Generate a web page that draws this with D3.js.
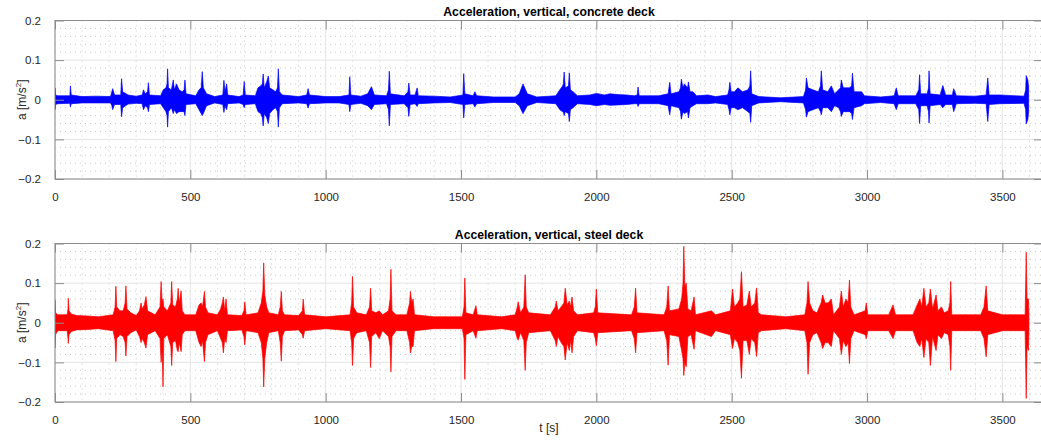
<!DOCTYPE html>
<html>
<head>
<meta charset="utf-8">
<script src="https://cdn.jsdelivr.net/npm/d3@7"></script>
<style>
  html, body { margin: 0; padding: 0; background: #fff; }
  svg { display: block; font-family: "Liberation Sans", Arial, Helvetica, sans-serif; }
</style>
</head>
<body>
<svg id="chart" width="1041" height="441"></svg>
<script>
// ---------- data (envelope keypoints: time [s], upper, lower [m/s^2]) ----------
const concreteT  = [0,2,10,55,57,60,100,150,205,210,213,220,243,246,250,270,300,322,327,333,342,345,349,390,400,410,414,416,419,430,437,441,449,458,470,477,480,484,520,532,540,544,548,560,590,620,624,628,634,638,680,695,699,703,740,750,760,766,769,773,782,788,793,805,815,822,825,829,840,900,930,935,940,1000,1050,1086,1089,1093,1130,1155,1169,1180,1225,1232,1235,1239,1290,1304,1307,1312,1330,1338,1342,1400,1460,1507,1510,1514,1545,1551,1558,1620,1700,1715,1729,1745,1780,1850,1865,1875,1878,1881,1885,1897,1900,1904,1914,1930,1976,2000,2030,2050,2080,2112,2140,2151,2154,2158,2230,2265,2271,2276,2305,2311,2314,2320,2325,2337,2340,2346,2357,2370,2412,2440,2485,2490,2493,2498,2510,2523,2540,2560,2567,2570,2574,2600,2680,2765,2773,2776,2782,2800,2820,2828,2831,2836,2855,2868,2880,2895,2902,2905,2912,2935,2943,2946,2952,2980,2990,3050,3100,3108,3115,3180,3191,3194,3198,3222,3227,3229,3233,3270,3280,3290,3315,3320,3330,3400,3440,3446,3451,3490,3580,3586,3588,3594,3597];
const concreteHi = [0.03,0.012,0.01,0.01,0.035,0.012,0.008,0.009,0.008,0.02,0.028,0.012,0.012,0.053,0.02,0.012,0.009,0.012,0.025,0.015,0.02,0.043,0.012,0.01,0.025,0.03,0.04,0.078,0.03,0.025,0.05,0.025,0.04,0.025,0.02,0.025,0.05,0.015,0.01,0.025,0.03,0.071,0.03,0.015,0.008,0.012,0.049,0.02,0.04,0.012,0.008,0.012,0.046,0.012,0.01,0.03,0.035,0.04,0.065,0.03,0.045,0.06,0.03,0.025,0.02,0.03,0.078,0.02,0.012,0.008,0.012,0.028,0.012,0.008,0.008,0.012,0.058,0.012,0.009,0.015,0.033,0.012,0.01,0.025,0.072,0.015,0.01,0.02,0.042,0.012,0.012,0.03,0.01,0.009,0.007,0.012,0.066,0.015,0.01,0.02,0.01,0.007,0.007,0.015,0.04,0.015,0.007,0.01,0.025,0.035,0.04,0.07,0.03,0.035,0.068,0.025,0.02,0.01,0.012,0.016,0.012,0.015,0.013,0.012,0.01,0.012,0.032,0.01,0.01,0.015,0.044,0.015,0.02,0.03,0.052,0.03,0.04,0.03,0.045,0.02,0.02,0.01,0.012,0.008,0.012,0.025,0.044,0.02,0.02,0.03,0.02,0.025,0.035,0.073,0.015,0.008,0.005,0.008,0.025,0.055,0.03,0.025,0.02,0.035,0.073,0.025,0.02,0.035,0.015,0.025,0.03,0.05,0.03,0.03,0.035,0.067,0.02,0.02,0.01,0.007,0.01,0.03,0.01,0.01,0.025,0.063,0.015,0.015,0.03,0.073,0.015,0.012,0.036,0.012,0.012,0.028,0.01,0.009,0.012,0.055,0.012,0.012,0.009,0.025,0.061,0.05,0.03];
const concreteLo = [-0.025,-0.012,-0.01,-0.009,-0.018,-0.01,-0.008,-0.008,-0.008,-0.015,-0.025,-0.012,-0.012,-0.043,-0.02,-0.011,-0.009,-0.01,-0.025,-0.015,-0.02,-0.03,-0.012,-0.01,-0.02,-0.03,-0.04,-0.069,-0.03,-0.02,-0.035,-0.025,-0.035,-0.03,-0.03,-0.03,-0.04,-0.012,-0.01,-0.025,-0.035,-0.04,-0.035,-0.015,-0.008,-0.012,-0.032,-0.015,-0.025,-0.01,-0.008,-0.012,-0.02,-0.012,-0.01,-0.03,-0.035,-0.045,-0.066,-0.035,-0.045,-0.06,-0.035,-0.025,-0.02,-0.03,-0.069,-0.02,-0.01,-0.008,-0.01,-0.021,-0.01,-0.008,-0.008,-0.012,-0.03,-0.012,-0.009,-0.015,-0.025,-0.012,-0.01,-0.025,-0.066,-0.012,-0.01,-0.02,-0.042,-0.012,-0.01,-0.017,-0.01,-0.008,-0.007,-0.012,-0.046,-0.012,-0.01,-0.018,-0.01,-0.007,-0.007,-0.015,-0.035,-0.015,-0.007,-0.01,-0.025,-0.03,-0.03,-0.04,-0.03,-0.035,-0.055,-0.025,-0.02,-0.01,-0.012,-0.015,-0.012,-0.014,-0.013,-0.012,-0.01,-0.01,-0.017,-0.01,-0.01,-0.015,-0.038,-0.015,-0.02,-0.03,-0.049,-0.03,-0.035,-0.03,-0.046,-0.02,-0.015,-0.01,-0.01,-0.008,-0.012,-0.025,-0.038,-0.02,-0.02,-0.025,-0.02,-0.03,-0.035,-0.057,-0.015,-0.008,-0.005,-0.008,-0.025,-0.044,-0.03,-0.025,-0.02,-0.03,-0.038,-0.02,-0.02,-0.03,-0.015,-0.02,-0.03,-0.042,-0.03,-0.03,-0.035,-0.05,-0.02,-0.015,-0.01,-0.007,-0.01,-0.025,-0.01,-0.01,-0.025,-0.06,-0.015,-0.015,-0.03,-0.059,-0.015,-0.012,-0.02,-0.012,-0.012,-0.03,-0.01,-0.009,-0.01,-0.055,-0.012,-0.01,-0.009,-0.025,-0.061,-0.05,-0.03];

const steelT  = [0,2,10,45,48,49,52,60,80,120,160,215,222,225,228,240,252,259,262,266,280,300,312,318,322,330,336,342,370,388,392,396,399,402,415,428,431,435,445,452,455,459,466,470,480,520,532,540,545,552,556,565,600,612,618,622,627,632,637,690,698,701,706,750,762,768,771,775,782,790,825,832,836,840,848,900,914,917,922,1000,1090,1096,1099,1103,1115,1150,1162,1166,1170,1185,1198,1210,1232,1238,1241,1245,1260,1300,1310,1313,1318,1323,1328,1400,1505,1511,1514,1518,1545,1555,1560,1650,1700,1708,1711,1720,1732,1737,1741,1750,1830,1848,1852,1858,1870,1880,1885,1892,1900,1905,1910,1916,1930,1990,1996,2000,2005,2130,2140,2145,2150,2250,2260,2265,2270,2305,2315,2320,2323,2327,2332,2338,2350,2361,2366,2425,2440,2495,2503,2510,2522,2530,2536,2542,2556,2565,2572,2585,2592,2598,2610,2700,2770,2778,2782,2788,2800,2815,2830,2836,2845,2856,2868,2876,2898,2905,2912,2922,2930,2935,2940,2952,2993,2997,3003,3080,3096,3105,3170,3185,3195,3202,3210,3218,3228,3234,3242,3255,3262,3275,3285,3300,3306,3309,3313,3420,3432,3440,3446,3500,3584,3588,3591,3596,3598];
const steelHi = [0.058,0.025,0.02,0.02,0.035,0.062,0.03,0.022,0.018,0.017,0.015,0.02,0.04,0.092,0.04,0.03,0.03,0.05,0.093,0.035,0.025,0.018,0.03,0.05,0.035,0.045,0.066,0.03,0.02,0.04,0.104,0.05,0.06,0.04,0.03,0.05,0.104,0.045,0.04,0.06,0.087,0.05,0.08,0.03,0.02,0.02,0.045,0.05,0.04,0.079,0.04,0.025,0.02,0.035,0.05,0.065,0.03,0.06,0.02,0.018,0.03,0.053,0.02,0.025,0.05,0.08,0.151,0.07,0.04,0.025,0.02,0.04,0.079,0.03,0.02,0.018,0.03,0.06,0.02,0.015,0.02,0.05,0.117,0.04,0.025,0.02,0.04,0.087,0.03,0.025,0.03,0.02,0.03,0.06,0.135,0.03,0.02,0.02,0.05,0.079,0.05,0.06,0.02,0.015,0.015,0.04,0.113,0.025,0.02,0.043,0.02,0.015,0.02,0.04,0.053,0.025,0.04,0.121,0.04,0.025,0.02,0.04,0.055,0.03,0.04,0.05,0.087,0.045,0.055,0.04,0.065,0.03,0.02,0.025,0.04,0.085,0.025,0.02,0.04,0.087,0.025,0.02,0.04,0.093,0.03,0.035,0.06,0.1,0.193,0.09,0.1,0.035,0.03,0.065,0.02,0.03,0.02,0.03,0.085,0.04,0.05,0.06,0.129,0.04,0.045,0.08,0.04,0.05,0.088,0.025,0.02,0.015,0.02,0.05,0.104,0.05,0.03,0.025,0.05,0.07,0.05,0.05,0.06,0.02,0.04,0.08,0.04,0.06,0.05,0.108,0.04,0.02,0.03,0.05,0.02,0.02,0.045,0.02,0.02,0.045,0.06,0.04,0.087,0.04,0.05,0.085,0.035,0.07,0.03,0.04,0.025,0.03,0.05,0.104,0.02,0.02,0.04,0.093,0.03,0.02,0.02,0.178,0.06,0.06,0.02];
const steelLo = [-0.064,-0.03,-0.02,-0.02,-0.04,-0.052,-0.03,-0.022,-0.018,-0.017,-0.015,-0.02,-0.045,-0.098,-0.04,-0.03,-0.035,-0.05,-0.084,-0.035,-0.025,-0.018,-0.035,-0.05,-0.04,-0.05,-0.064,-0.03,-0.02,-0.04,-0.1,-0.07,-0.162,-0.04,-0.03,-0.06,-0.108,-0.05,-0.045,-0.07,-0.073,-0.05,-0.073,-0.03,-0.02,-0.02,-0.05,-0.06,-0.045,-0.098,-0.05,-0.03,-0.02,-0.04,-0.05,-0.076,-0.04,-0.05,-0.02,-0.018,-0.035,-0.056,-0.02,-0.025,-0.05,-0.09,-0.162,-0.09,-0.05,-0.025,-0.02,-0.05,-0.097,-0.035,-0.02,-0.018,-0.03,-0.039,-0.02,-0.015,-0.02,-0.05,-0.108,-0.04,-0.025,-0.02,-0.05,-0.113,-0.035,-0.025,-0.04,-0.02,-0.035,-0.06,-0.124,-0.035,-0.02,-0.02,-0.05,-0.076,-0.06,-0.06,-0.02,-0.015,-0.015,-0.04,-0.143,-0.03,-0.02,-0.039,-0.02,-0.015,-0.02,-0.04,-0.044,-0.025,-0.045,-0.12,-0.05,-0.025,-0.02,-0.045,-0.06,-0.035,-0.05,-0.06,-0.094,-0.05,-0.07,-0.045,-0.076,-0.035,-0.02,-0.025,-0.04,-0.058,-0.025,-0.02,-0.04,-0.076,-0.025,-0.02,-0.045,-0.107,-0.03,-0.035,-0.07,-0.09,-0.133,-0.1,-0.111,-0.035,-0.03,-0.067,-0.02,-0.035,-0.02,-0.03,-0.065,-0.04,-0.05,-0.07,-0.14,-0.045,-0.045,-0.08,-0.04,-0.05,-0.085,-0.025,-0.02,-0.015,-0.02,-0.05,-0.13,-0.05,-0.03,-0.025,-0.05,-0.065,-0.05,-0.05,-0.06,-0.02,-0.04,-0.08,-0.045,-0.06,-0.05,-0.103,-0.04,-0.02,-0.03,-0.04,-0.02,-0.02,-0.04,-0.02,-0.02,-0.05,-0.06,-0.04,-0.088,-0.04,-0.05,-0.108,-0.035,-0.07,-0.03,-0.04,-0.025,-0.03,-0.06,-0.12,-0.02,-0.02,-0.04,-0.086,-0.03,-0.02,-0.02,-0.191,-0.06,-0.07,-0.02];

const xTicks = [0, 500, 1000, 1500, 2000, 2500, 3000, 3500];
const yTicks = [-0.2, -0.1, 0, 0.1, 0.2];
const titles = ["Acceleration, vertical, concrete deck", "Acceleration, vertical, steel deck"];
const xLabel = "t [s]";

// ---------- layout ----------
const svg = d3.select("#chart");
const left = 55, right = 1043;
const panels = [
  { top: 20.5, bottom: 179, T: concreteT, hi: concreteHi, lo: concreteLo, color: "#0000ff", title: titles[0] },
  { top: 243.5, bottom: 402, T: steelT, hi: steelHi, lo: steelLo, color: "#ff0000", title: titles[1] }
];

const x = d3.scaleLinear().domain([0, 3650]).range([left, right]);
const minorX = d3.range(0, 3650, 100);
const minorY = d3.range(-0.2, 0.2001, 0.02).map(v => +v.toFixed(2));

panels.forEach((p, i) => {
  const y = d3.scaleLinear().domain([-0.2, 0.2]).range([p.bottom, p.top]);
  const g = svg.append("g");

  const cid = "clip" + i;
  svg.append("clipPath").attr("id", cid).append("rect")
    .attr("x", left).attr("y", p.top).attr("width", right - left).attr("height", p.bottom - p.top);

  // minor grid (dotted)
  g.append("g").selectAll("line").data(minorX.filter(v => v % 500 !== 0)).join("line")
    .attr("x1", d => x(d)).attr("x2", d => x(d)).attr("y1", p.top).attr("y2", p.bottom)
    .attr("stroke", "#c8c8c8").attr("stroke-width", 1).attr("stroke-dasharray", "1,4");
  g.append("g").selectAll("line").data(minorY.filter(v => Math.abs(Math.round(v * 100)) % 10 !== 0)).join("line")
    .attr("x1", left).attr("x2", right).attr("y1", d => y(d)).attr("y2", d => y(d))
    .attr("stroke", "#c8c8c8").attr("stroke-width", 1).attr("stroke-dasharray", "1,4");

  // major grid
  g.append("g").selectAll("line").data(xTicks).join("line")
    .attr("x1", d => x(d)).attr("x2", d => x(d)).attr("y1", p.top).attr("y2", p.bottom)
    .attr("stroke", "#e3e3e3").attr("stroke-width", 1);
  g.append("g").selectAll("line").data(yTicks).join("line")
    .attr("x1", left).attr("x2", right).attr("y1", d => y(d)).attr("y2", d => y(d))
    .attr("stroke", "#e3e3e3").attr("stroke-width", 1);

  // signal envelope
  const pts = p.T.map((t, k) => ({ t, hi: p.hi[k], lo: p.lo[k] }));
  const area = d3.area().x(d => x(d.t)).y0(d => y(d.lo)).y1(d => y(d.hi)).curve(d3.curveLinear);
  g.append("path").datum(pts).attr("d", area)
    .attr("fill", p.color).attr("stroke", p.color).attr("stroke-width", 0.7)
    .attr("clip-path", `url(#${cid})`);

  // axes
  const axB = d3.axisBottom(x).tickValues(xTicks).tickSize(-9).tickPadding(14).tickFormat(d3.format("d"));
  const axT = d3.axisTop(x).tickValues(xTicks).tickSize(-9).tickFormat("");
  const axL = d3.axisLeft(y).tickValues(yTicks).tickSize(-9).tickPadding(14).tickFormat(d => d === 0 ? "0" : d3.format(".1f")(d));
  const axR = d3.axisRight(y).tickValues(yTicks).tickSize(-9).tickFormat("");

  const style = sel => {
    sel.selectAll(".tick line").attr("stroke", "#8c8c8c").attr("stroke-width", 1);
    sel.selectAll(".tick text").attr("fill", "#262626").attr("font-size", "11.5px")
      .attr("font-family", "Liberation Sans, Arial, sans-serif");
  };
  g.append("g").attr("transform", `translate(0,${p.bottom})`).call(axB).call(style);
  g.append("g").attr("transform", `translate(0,${p.top})`).call(axT).call(style);
  g.append("g").attr("transform", `translate(${left},0)`).call(axL).call(style);
  g.append("g").attr("transform", `translate(${right},0)`).call(axR).call(style);
  g.selectAll(".domain").remove();
  g.append("rect").attr("x", left).attr("y", p.top).attr("width", right - left).attr("height", p.bottom - p.top)
    .attr("fill", "none").attr("stroke", "#8c8c8c").attr("stroke-width", 1);

  // title
  svg.append("text").attr("x", (left + right) / 2).attr("y", p.top - 5)
    .attr("text-anchor", "middle").attr("font-weight", "bold").attr("font-size", "12.2px")
    .attr("fill", "#000").text(p.title);

  // y label
  const yl = svg.append("text")
    .attr("transform", `translate(26,${(p.top + p.bottom) / 2}) rotate(-90)`)
    .attr("text-anchor", "middle").attr("font-size", "12px").attr("fill", "#262626");
  yl.append("tspan").text("a [m/s");
  yl.append("tspan").attr("dy", -5).attr("font-size", "8px").text("2");
  yl.append("tspan").attr("dy", 5).text("]");
});

svg.append("text").attr("x", (left + right) / 2).attr("y", 432)
  .attr("text-anchor", "middle").attr("font-size", "12px").attr("fill", "#262626").text(xLabel);
</script>
</body>
</html>
